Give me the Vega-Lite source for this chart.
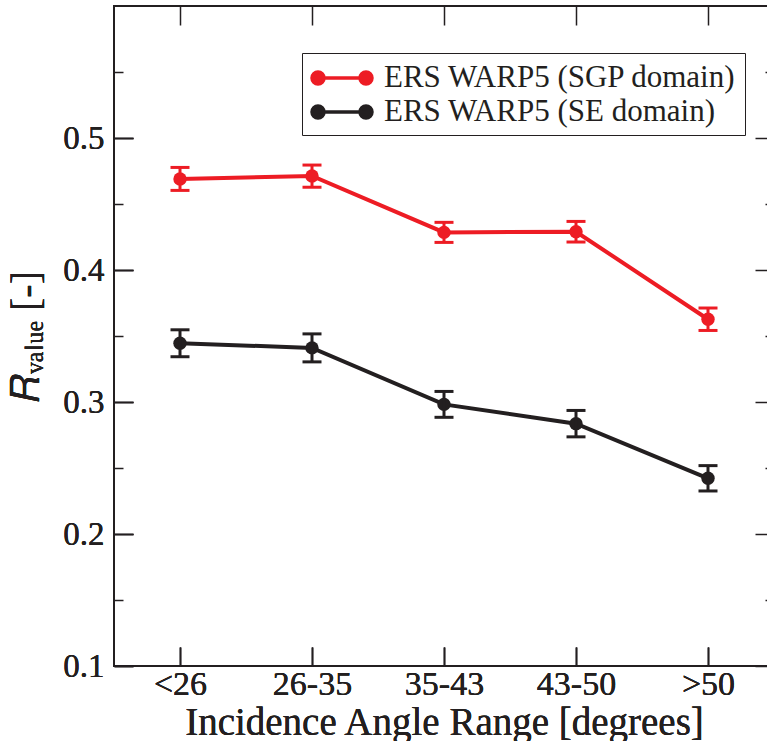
{
  "$schema": "https://vega.github.io/schema/vega-lite/v6.json",
  "width": 660,
  "height": 660,
  "autosize": {"type": "none"},
  "padding": {"left": 114, "top": 6, "right": 0, "bottom": 75},
  "background": "white",
  "config": {
    "view": {"stroke": "#231f20", "strokeWidth": 2},
    "font": "Liberation Serif",
    "axis": {"domain": false, "grid": false, "tickColor": "#231f20", "tickWidth": 1.5, "labelColor": "#231f20", "titleColor": "#231f20", "labelFont": "Liberation Serif", "titleFont": "Liberation Serif", "titleFontWeight": "normal"}
  },
  "data": {"values": [
    {"range": "<26", "series": "ERS WARP5 (SGP domain)", "r": 0.469, "lo": 0.4603, "hi": 0.4777},
    {"range": "26-35", "series": "ERS WARP5 (SGP domain)", "r": 0.4712, "lo": 0.4627, "hi": 0.4795},
    {"range": "35-43", "series": "ERS WARP5 (SGP domain)", "r": 0.4285, "lo": 0.4209, "hi": 0.4361},
    {"range": "43-50", "series": "ERS WARP5 (SGP domain)", "r": 0.429, "lo": 0.4212, "hi": 0.4368},
    {"range": ">50", "series": "ERS WARP5 (SGP domain)", "r": 0.3627, "lo": 0.3542, "hi": 0.3712},
    {"range": "<26", "series": "ERS WARP5 (SE domain)", "r": 0.3445, "lo": 0.3343, "hi": 0.3547},
    {"range": "26-35", "series": "ERS WARP5 (SE domain)", "r": 0.341, "lo": 0.3304, "hi": 0.3516},
    {"range": "35-43", "series": "ERS WARP5 (SE domain)", "r": 0.2982, "lo": 0.2884, "hi": 0.308},
    {"range": "43-50", "series": "ERS WARP5 (SE domain)", "r": 0.2836, "lo": 0.2736, "hi": 0.2936},
    {"range": ">50", "series": "ERS WARP5 (SE domain)", "r": 0.2422, "lo": 0.2326, "hi": 0.2518}
  ]},
  "encoding": {
    "x": {"field": "range", "type": "ordinal", "sort": ["<26", "26-35", "35-43", "43-50", ">50"],
      "scale": {"type": "point", "padding": 0.5},
      "axis": {"orient": "bottom", "title": "Incidence Angle Range [degrees]", "labelAngle": 0, "labelFontSize": 34, "titleFontSize": 39, "tickSize": -19, "labelPadding": 20, "titlePadding": 2}},
    "y": {"field": "r", "type": "quantitative", "scale": {"domain": [0.1, 0.6], "nice": false, "zero": false},
      "axis": {"orient": "left", "title": "𝑅ᵥₐₗᵤₑ [-]", "values": [0.1, 0.2, 0.3, 0.4, 0.5],
        "format": ".1f", "tickSize": -19,
        "labelFontSize": 33, "titleFontSize": 40, "labelPadding": 29, "titlePadding": 16}},
    "color": {"field": "series", "type": "nominal",
      "scale": {"domain": ["ERS WARP5 (SGP domain)", "ERS WARP5 (SE domain)"], "range": ["#ed1c24", "#231f20"]},
      "legend": {"orient": "none", "legendX": 188, "legendY": 47, "title": null,
        "symbolType": "M-1,0A0.4,0.4,0,1,0,-0.2,0A0.4,0.4,0,1,0,-1,0Z M2.2,0A0.4,0.4,0,1,0,3,0A0.4,0.4,0,1,0,2.2,0Z M-0.6,0L2.6,0",
        "symbolSize": 900, "symbolStrokeWidth": 3.5, "symbolFillColor": null,
        "labelFontSize": 31, "labelFont": "Liberation Serif", "labelColor": "#231f20", "labelOffset": 40, "labelLimit": 500, "rowPadding": 2,
        "strokeColor": "#231f20", "fillColor": "white", "padding": 8}}
  },
  "layer": [
    {"mark": {"type": "line", "strokeWidth": 4}},
    {"mark": {"type": "point", "filled": true, "opacity": 1, "size": 180}},
    {"mark": {"type": "errorbar", "ticks": {"size": 19, "thickness": 3, "opacity": 1}, "rule": {"opacity": 1}, "thickness": 3},
      "encoding": {"y": {"field": "lo", "type": "quantitative"}, "y2": {"field": "hi"}}},
    {"mark": {"type": "point", "opacity": 0}, "encoding": {
      "x": {"field": "range", "type": "ordinal", "sort": ["<26", "26-35", "35-43", "43-50", ">50"], "axis": {"orient": "top", "title": null, "labels": false, "tickSize": -19}},
      "y": {"field": "r", "type": "quantitative", "axis": {"orient": "right", "title": null, "labels": false, "values": [0.1, 0.15, 0.2, 0.25, 0.3, 0.35, 0.4, 0.45, 0.5, 0.55],
        "tickSize": {"expr": "abs(round(datum.value*10) - datum.value*10) < 0.01 ? -19 : -9"}}},
      "color": {"value": "transparent"}}},
    {"mark": {"type": "point", "opacity": 0}, "encoding": {
      "x": {"field": "range", "type": "ordinal", "sort": ["<26", "26-35", "35-43", "43-50", ">50"], "axis": null},
      "y": {"field": "r", "type": "quantitative", "axis": {"orient": "left", "title": null, "labels": false, "values": [0.15, 0.25, 0.35, 0.45, 0.55], "tickSize": -9}},
      "color": {"value": "transparent"}}}
  ],
  "resolve": {"axis": {"x": "independent", "y": "independent"}}
}
